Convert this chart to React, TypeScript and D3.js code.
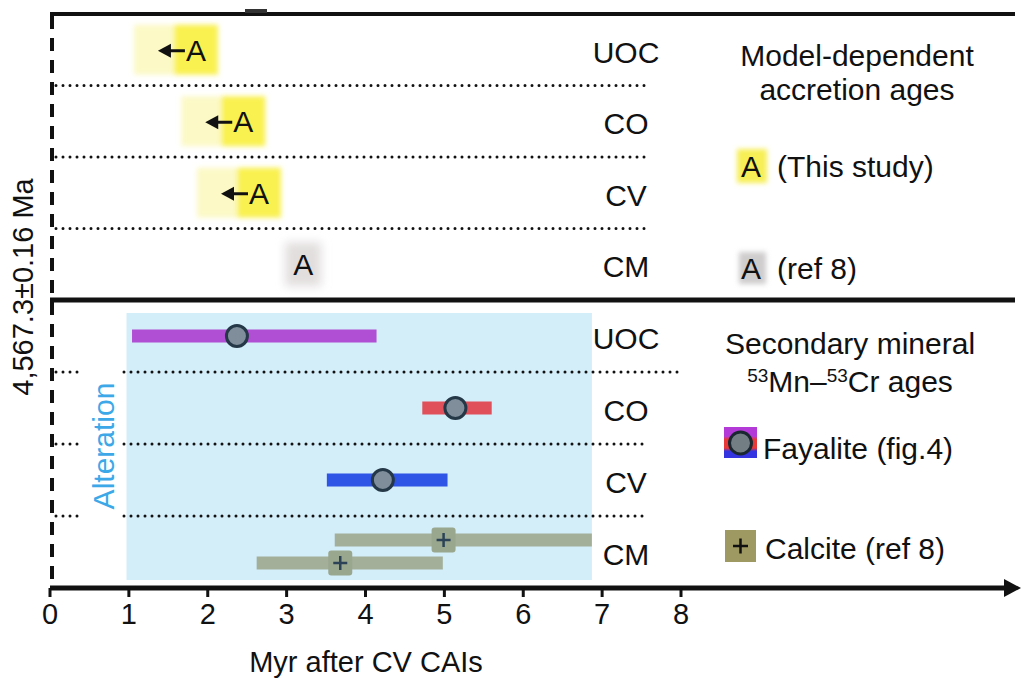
import React from "react";
import * as d3 from "d3";

const rows = ["UOC", "CO", "CV", "CM"];
const xTicks = [0, 1, 2, 3, 4, 5, 6, 7, 8];
const accretionRows = ["UOC", "CO", "CV", "CM"];
const accretionAges = [1.85, 2.45, 2.65, 3.21];
const accretionSource = ["This study", "This study", "This study", "ref 8"];
const fayaliteRows = ["UOC", "CO", "CV"];
const fayaliteLow = [1.04, 4.72, 3.51];
const fayaliteAge = [2.37, 5.14, 4.22];
const fayaliteHigh = [4.14, 5.6, 5.04];
const fayaliteColors = ["#b04fd4", "#e0505a", "#2f55e6"];
const calciteLow = [3.61, 2.62];
const calciteAge = [4.99, 3.68];
const calciteHigh = [6.87, 4.98];
const alterationRange = [0.97, 6.87];

const W = 1021;
const H = 681;
const FONT = "'Liberation Sans', Arial, Helvetica, sans-serif";
const FS = 30;

export default function App() {
  const x = d3.scaleLinear().domain([0, 8]).range([50, 681]);
  const yTop = d3.scaleBand().domain(rows).range([14, 300]);
  const yBot = d3.scaleBand().domain(rows).range([300, 588]);
  const bw = yTop.bandwidth();
  const cTop = (r: string) => (yTop(r) as number) + bw / 2;
  const cBot = (r: string) => (yBot(r) as number) + yBot.bandwidth() / 2;

  const dotted = { stroke: "#111", strokeWidth: 3, strokeDasharray: "0 7", strokeLinecap: "round" as const };

  return (
    <svg width={W} height={H} style={{ position: "absolute", left: 0, top: 0, background: "#fff" }} fontFamily={FONT}>
      <defs>
        <filter id="blur" x="-30%" y="-30%" width="160%" height="160%">
          <feGaussianBlur stdDeviation="2.5" />
        </filter>
        <filter id="blurGrey" x="-50%" y="-50%" width="200%" height="200%">
          <feGaussianBlur stdDeviation="5" />
        </filter>
        <linearGradient id="fayGrad" x1="0" y1="0" x2="0" y2="1">
          <stop offset="0" stopColor="#b43ad8" />
          <stop offset="0.3" stopColor="#b43ad8" />
          <stop offset="0.4" stopColor="#e83838" />
          <stop offset="0.68" stopColor="#e83838" />
          <stop offset="0.78" stopColor="#3434e0" />
          <stop offset="1" stopColor="#3434e0" />
        </linearGradient>
      </defs>

      {/* alteration background */}
      <rect x={x(alterationRange[0])} y={313} width={x(alterationRange[1]) - x(alterationRange[0])} height={267} fill="#d3edf9" />
      <text transform={`translate(${114},${446}) rotate(-90)`} textAnchor="middle" fontSize={FS} fill="#3da8e8">Alteration</text>

      {/* frame lines */}
      <line x1={50} x2={1015} y1={14} y2={14} stroke="#111" strokeWidth={4} />
      <rect x={245} y={9} width={22} height={4} fill="#333" />
      <line x1={50} x2={1015} y1={300} y2={300} stroke="#111" strokeWidth={5} />
      <line x1={52} x2={52} y1={16} y2={586} stroke="#111" strokeWidth={4} strokeDasharray="13 9" />

      {/* top panel separators */}
      {rows.slice(1).map((r) => (
        <line key={"ts" + r} x1={56} x2={648} y1={yTop(r) as number} y2={yTop(r) as number} {...dotted} />
      ))}
      {/* bottom panel separators */}
      {rows.slice(1).map((r, i) => (
        <g key={"bs" + r}>
          <line x1={56} x2={84} y1={yBot(r) as number} y2={yBot(r) as number} {...dotted} />
          <line x1={124} x2={i === 0 ? 680 : 648} y1={yBot(r) as number} y2={yBot(r) as number} {...dotted} />
        </g>
      ))}

      {/* row labels */}
      {rows.map((r) => (
        <text key={"tl" + r} x={626} y={cTop(r) + 13} textAnchor="middle" fontSize={FS} fill="#111">{r}</text>
      ))}
      {rows.map((r) => (
        <text key={"bl" + r} x={626} y={cBot(r) + 13} textAnchor="middle" fontSize={FS} fill="#111">{r}</text>
      ))}

      {/* accretion ages */}
      {accretionRows.map((r, i) => {
        const cx = x(accretionAges[i]);
        const cy = cTop(r);
        const mine = accretionSource[i] === "This study";
        return (
          <g key={"acc" + r}>
            {mine ? (
              <g filter="url(#blur)">
                <rect x={cx - 62} y={cy - 25} width={40} height={50} fill="#fcf9c6" />
                <rect x={cx - 22} y={cy - 25} width={44} height={50} fill="#f9f150" />
              </g>
            ) : (
              <rect x={cx - 18} y={cy - 22} width={36} height={44} fill="#e2dede" filter="url(#blurGrey)" />
            )}
            {mine && (
              <g>
                <line x1={cx - 27} x2={cx - 11} y1={cy + 1} y2={cy + 1} stroke="#111" strokeWidth={3} />
                <polygon points={`${cx - 38},${cy + 1} ${cx - 25},${cy - 6} ${cx - 25},${cy + 8}`} fill="#111" />
              </g>
            )}
            <text x={cx} y={cy + 11} textAnchor="middle" fontSize={FS} fill="#111">A</text>
          </g>
        );
      })}

      {/* fayalite */}
      {fayaliteRows.map((r, i) => {
        const cy = cBot(r);
        return (
          <g key={"fay" + r}>
            <rect x={x(fayaliteLow[i])} y={cy - 6.5} width={x(fayaliteHigh[i]) - x(fayaliteLow[i])} height={13} fill={fayaliteColors[i]} />
            <circle cx={x(fayaliteAge[i])} cy={cy} r={10.5} fill="#7f8e9a" stroke="#253848" strokeWidth={3} />
          </g>
        );
      })}

      {/* calcite */}
      {calciteAge.map((v, i) => {
        const cy = cBot("CM") + (i === 0 ? -12 : 11);
        const cx = x(v);
        return (
          <g key={"cal" + i}>
            <rect x={x(calciteLow[i])} y={cy - 6.5} width={x(calciteHigh[i]) - x(calciteLow[i])} height={13} fill="#a3af99" />
            <rect x={cx - 12} y={cy - 12.5} width={24} height={25} rx={3} fill="#9aa78f" />
            <line x1={cx - 7} x2={cx + 7} y1={cy} y2={cy} stroke="#2b4257" strokeWidth={2.5} />
            <line x1={cx} x2={cx} y1={cy - 7} y2={cy + 7} stroke="#2b4257" strokeWidth={2.5} />
          </g>
        );
      })}

      {/* x axis */}
      <line x1={50} x2={1008} y1={588} y2={588} stroke="#111" strokeWidth={5} />
      <polygon points={`1021,588 1004,579 1004,597`} fill="#111" />
      {xTicks.map((t) => (
        <g key={"tk" + t}>
          <line x1={x(t)} x2={x(t)} y1={588} y2={597} stroke="#111" strokeWidth={3} />
          <text x={x(t)} y={624} textAnchor="middle" fontSize={29} fill="#111">{t}</text>
        </g>
      ))}
      <text x={366} y={672} textAnchor="middle" fontSize={29} fill="#111">Myr after CV CAIs</text>

      {/* y label */}
      <text transform={`translate(${33},${287}) rotate(-90)`} textAnchor="middle" fontSize={29} fill="#111">4,567.3±0.16 Ma</text>

      {/* legend top */}
      <text x={857} y={66} textAnchor="middle" fontSize={FS} fill="#111">Model-dependent</text>
      <text x={857} y={100} textAnchor="middle" fontSize={FS} fill="#111">accretion ages</text>
      <rect x={737} y={149} width={30} height={34} fill="#f7ef55" filter="url(#blur)" />
      <text x={751} y={177} textAnchor="middle" fontSize={FS} fill="#111">A</text>
      <text x={777} y={177} fontSize={FS} fill="#111">(This study)</text>
      <rect x={739} y={252} width={27} height={32} fill="#cfcccc" filter="url(#blur)" />
      <text x={751} y={279} textAnchor="middle" fontSize={FS} fill="#111">A</text>
      <text x={777} y={279} fontSize={FS} fill="#111">(ref 8)</text>

      {/* legend bottom */}
      <text x={850} y={354} textAnchor="middle" fontSize={FS} fill="#111">Secondary mineral</text>
      <text x={850} y={392} textAnchor="middle" fontSize={FS} fill="#111">
        <tspan fontSize={19} dy={-10}>53</tspan>
        <tspan dy={10}>Mn–</tspan>
        <tspan fontSize={19} dy={-10}>53</tspan>
        <tspan dy={10}>Cr ages</tspan>
      </text>
      <rect x={724} y={427} width={33} height={31} fill="url(#fayGrad)" />
      <circle cx={740.5} cy={443} r={11} fill="#737d84" stroke="#1a2630" strokeWidth={3} />
      <text x={763} y={459} fontSize={FS} fill="#111">Fayalite (fig.4)</text>
      <rect x={725} y={530} width={31} height={32} fill="#9e9862" />
      <line x1={733} x2={748} y1={546} y2={546} stroke="#111" strokeWidth={2.5} />
      <line x1={740.5} x2={740.5} y1={538.5} y2={553.5} stroke="#111" strokeWidth={2.5} />
      <text x={765} y={559} fontSize={FS} fill="#111">Calcite (ref 8)</text>
    </svg>
  );
}
